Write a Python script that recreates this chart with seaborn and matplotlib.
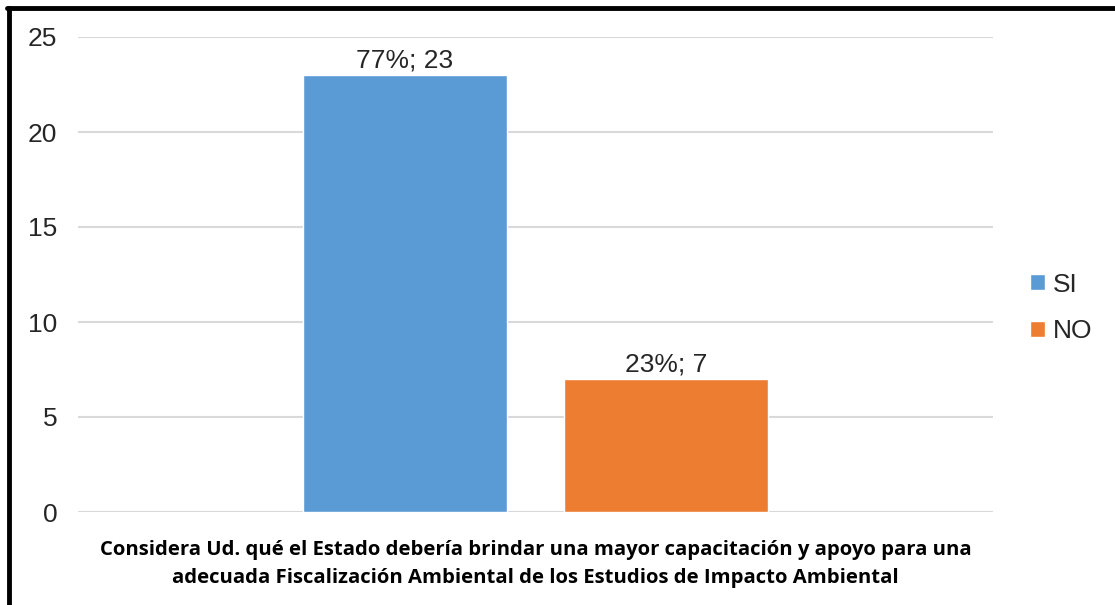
import pandas as pd
import seaborn as sns
import matplotlib.pyplot as plt
from matplotlib.lines import Line2D

# Datos del gráfico
categorias = ['SI', 'NO']
cantidades = [23, 7]
porcentajes = ['77%', '23%']
pregunta = ('Considera Ud. qué el Estado debería brindar una mayor capacitación y apoyo para una\n'
            'adecuada Fiscalización Ambiental de los Estudios de Impacto Ambiental')
colores = ['#5B9BD5', '#ED7D31']

datos = pd.DataFrame({'grupo': [pregunta] * 2, 'respuesta': categorias, 'valor': cantidades})

sns.set_style('white')
plt.rcParams['font.family'] = ['Liberation Sans', 'DejaVu Sans']

fig = plt.figure(figsize=(11.15, 6.05), dpi=100)
ax = fig.add_axes([78 / 1115, 1 - 512 / 605, 915 / 1115, 475 / 605])

sns.barplot(data=datos, x='grupo', y='valor', hue='respuesta', palette=colores,
            width=0.571, gap=0.22, saturation=1, ax=ax, legend=True)

# Etiquetas de datos
for barras, pct, val in zip(ax.containers, porcentajes, cantidades):
    ax.bar_label(barras, labels=[f'{pct}; {val}'], padding=2, fontsize=19, color='#262626')

ax.set_ylim(0, 25)
ax.set_yticks(range(0, 26, 5))
ax.set_xlim(-0.5, 0.5)
ax.yaxis.grid(True, color='#D9D9D9', linewidth=1.5)
ax.set_axisbelow(True)
sns.despine(ax=ax, left=True, bottom=True)
ax.tick_params(axis='y', labelsize=19, labelcolor='#262626', length=0, pad=15)
ax.set_xticks([])
ax.set_xlabel(pregunta, fontsize=14.6, fontweight='bold', fontfamily='Open Sans',
              labelpad=20, linespacing=1.55, color='black')
ax.set_ylabel('')

ax.legend(loc='center left', bbox_to_anchor=(1.015, 0.43), frameon=False, fontsize=19,
          handlelength=0.55, handleheight=0.55, handletextpad=0.3, labelspacing=0.85)

# Marco negro izquierdo y superior
fig.add_artist(Line2D([8.5 / 1115, 8.5 / 1115], [0, 1 - 7.5 / 605], color='black', lw=3.5,
                      transform=fig.transFigure))
fig.add_artist(Line2D([6.8 / 1115, 1], [1 - 7.5 / 605, 1 - 7.5 / 605], color='black', lw=3.5,
                      transform=fig.transFigure))

fig.savefig('out.png', dpi=100)
